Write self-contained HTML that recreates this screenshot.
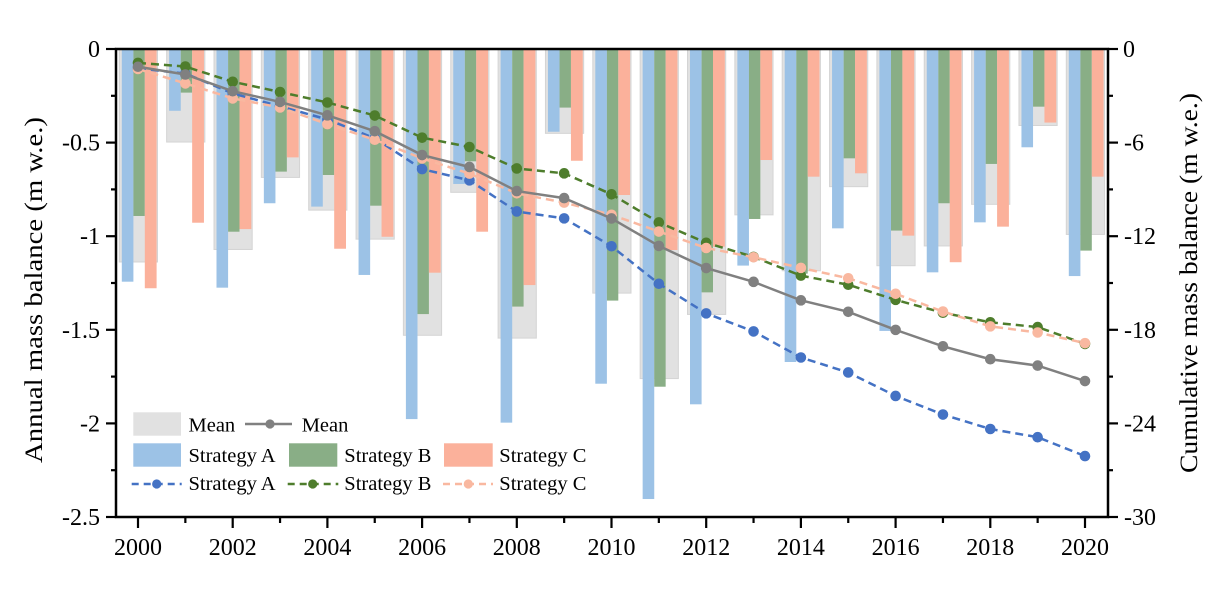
<!DOCTYPE html>
<html>
<head>
<meta charset="utf-8">
<style>
html,body{margin:0;padding:0;background:#fff;}
svg{display:block;}
text{font-family:"Liberation Serif","Times New Roman",serif;fill:#000;}
rect.m{fill:#e1e1e1;stroke:#d4d4d4;stroke-width:1;}
rect.a{fill:#9cc2e6;}
rect.b{fill:#89ae86;}
rect.c{fill:#fbb19b;}
.tk{font-size:24px;}
.lg{font-size:20.5px;}
</style>
</head>
<body>
<svg width="1213" height="606" viewBox="0 0 1213 606" xmlns="http://www.w3.org/2000/svg">
<defs>
<marker id="mA" markerUnits="userSpaceOnUse" markerWidth="14" markerHeight="14" refX="7" refY="7"><circle cx="7" cy="7" r="5.3" fill="#4472c4"/></marker>
<marker id="mB" markerUnits="userSpaceOnUse" markerWidth="14" markerHeight="14" refX="7" refY="7"><circle cx="7" cy="7" r="5.3" fill="#4e7d2c"/></marker>
<marker id="mC" markerUnits="userSpaceOnUse" markerWidth="14" markerHeight="14" refX="7" refY="7"><circle cx="7" cy="7" r="5.3" fill="#f9b8a0"/></marker>
<marker id="mM" markerUnits="userSpaceOnUse" markerWidth="14" markerHeight="14" refX="7" refY="7"><circle cx="7" cy="7" r="5.3" fill="#808080"/></marker>
</defs>
<rect width="1213" height="606" fill="#fff"/>

<!-- bars -->
<g transform="translate(138,49)"><rect class="m" x="-18.7" width="38.2" height="212.97"/><rect class="a" x="-16.2" width="11.6" height="232.69"/><rect class="b" x="-4.6" width="11.4" height="166.98"/><rect class="c" x="6.8" width="11.8" height="239.24"/></g>
<g transform="translate(185.35,49)"><rect class="m" x="-18.7" width="38.2" height="93.04"/><rect class="a" x="-16.2" width="11.6" height="61.78"/><rect class="b" x="-4.6" width="11.4" height="43.62"/><rect class="c" x="6.8" width="11.8" height="173.72"/></g>
<g transform="translate(232.7,49)"><rect class="m" x="-18.7" width="38.2" height="200.49"/><rect class="a" x="-16.2" width="11.6" height="238.68"/><rect class="b" x="-4.6" width="11.4" height="182.71"/><rect class="c" x="6.8" width="11.8" height="180.09"/></g>
<g transform="translate(280.05,49)"><rect class="m" x="-18.7" width="38.2" height="128.42"/><rect class="a" x="-16.2" width="11.6" height="154.25"/><rect class="b" x="-4.6" width="11.4" height="122.62"/><rect class="c" x="6.8" width="11.8" height="108.39"/></g>
<g transform="translate(327.4,49)"><rect class="m" x="-18.7" width="38.2" height="161.12"/><rect class="a" x="-16.2" width="11.6" height="157.62"/><rect class="b" x="-4.6" width="11.4" height="125.99"/><rect class="c" x="6.8" width="11.8" height="199.74"/></g>
<g transform="translate(374.75,49)"><rect class="m" x="-18.7" width="38.2" height="190.14"/><rect class="a" x="-16.2" width="11.6" height="225.95"/><rect class="b" x="-4.6" width="11.4" height="156.69"/><rect class="c" x="6.8" width="11.8" height="187.76"/></g>
<g transform="translate(422.1,49)"><rect class="m" x="-18.7" width="38.2" height="286.29"/><rect class="a" x="-16.2" width="11.6" height="370.09"/><rect class="b" x="-4.6" width="11.4" height="265.08"/><rect class="c" x="6.8" width="11.8" height="223.7"/></g>
<g transform="translate(469.45,49)"><rect class="m" x="-18.7" width="38.2" height="143.33"/><rect class="a" x="-16.2" width="11.6" height="134.97"/><rect class="b" x="-4.6" width="11.4" height="112.32"/><rect class="c" x="6.8" width="11.8" height="182.71"/></g>
<g transform="translate(516.8,49)"><rect class="m" x="-18.7" width="38.2" height="289.1"/><rect class="a" x="-16.2" width="11.6" height="373.65"/><rect class="b" x="-4.6" width="11.4" height="257.59"/><rect class="c" x="6.8" width="11.8" height="236.06"/></g>
<g transform="translate(564.15,49)"><rect class="m" x="-18.7" width="38.2" height="84.37"/><rect class="a" x="-16.2" width="11.6" height="82.74"/><rect class="b" x="-4.6" width="11.4" height="58.59"/><rect class="c" x="6.8" width="11.8" height="111.76"/></g>
<g transform="translate(611.5,49)"><rect class="m" x="-18.7" width="38.2" height="244.11"/><rect class="a" x="-16.2" width="11.6" height="334.71"/><rect class="b" x="-4.6" width="11.4" height="251.6"/><rect class="c" x="6.8" width="11.8" height="146.02"/></g>
<g transform="translate(658.85,49)"><rect class="m" x="-18.7" width="38.2" height="329.6"/><rect class="a" x="-16.2" width="11.6" height="450.03"/><rect class="b" x="-4.6" width="11.4" height="337.71"/><rect class="c" x="6.8" width="11.8" height="201.05"/></g>
<g transform="translate(706.2,49)"><rect class="m" x="-18.7" width="38.2" height="265.45"/><rect class="a" x="-16.2" width="11.6" height="355.31"/><rect class="b" x="-4.6" width="11.4" height="243.36"/><rect class="c" x="6.8" width="11.8" height="197.68"/></g>
<g transform="translate(753.55,49)"><rect class="m" x="-18.7" width="38.2" height="165.86"/><rect class="a" x="-16.2" width="11.6" height="216.59"/><rect class="b" x="-4.6" width="11.4" height="169.98"/><rect class="c" x="6.8" width="11.8" height="111.01"/></g>
<g transform="translate(800.9,49)"><rect class="m" x="-18.7" width="38.2" height="221.77"/><rect class="a" x="-16.2" width="11.6" height="313"/><rect class="b" x="-4.6" width="11.4" height="224.64"/><rect class="c" x="6.8" width="11.8" height="127.67"/></g>
<g transform="translate(848.25,49)"><rect class="m" x="-18.7" width="38.2" height="137.65"/><rect class="a" x="-16.2" width="11.6" height="179.34"/><rect class="b" x="-4.6" width="11.4" height="109.32"/><rect class="c" x="6.8" width="11.8" height="124.3"/></g>
<g transform="translate(895.6,49)"><rect class="m" x="-18.7" width="38.2" height="216.72"/><rect class="a" x="-16.2" width="11.6" height="281.92"/><rect class="b" x="-4.6" width="11.4" height="181.58"/><rect class="c" x="6.8" width="11.8" height="186.64"/></g>
<g transform="translate(942.95,49)"><rect class="m" x="-18.7" width="38.2" height="196.93"/><rect class="a" x="-16.2" width="11.6" height="223.33"/><rect class="b" x="-4.6" width="11.4" height="154.25"/><rect class="c" x="6.8" width="11.8" height="213.22"/></g>
<g transform="translate(990.3,49)"><rect class="m" x="-18.7" width="38.2" height="155.32"/><rect class="a" x="-16.2" width="11.6" height="173.35"/><rect class="b" x="-4.6" width="11.4" height="114.94"/><rect class="c" x="6.8" width="11.8" height="177.65"/></g>
<g transform="translate(1037.65,49)"><rect class="m" x="-18.7" width="38.2" height="76.5"/><rect class="a" x="-16.2" width="11.6" height="98.28"/><rect class="b" x="-4.6" width="11.4" height="57.66"/><rect class="c" x="6.8" width="11.8" height="73.57"/></g>
<g transform="translate(1085,49)"><rect class="m" x="-18.7" width="38.2" height="185.46"/><rect class="a" x="-16.2" width="11.6" height="227.07"/><rect class="b" x="-4.6" width="11.4" height="201.61"/><rect class="c" x="6.8" width="11.8" height="127.67"/></g>

<!-- cumulative lines -->
<polyline fill="none" stroke="#4472c4" stroke-width="2.5" stroke-dasharray="8 5" marker-start="url(#mA)" marker-mid="url(#mA)" marker-end="url(#mA)" points="138,68.39 185.35,73.54 232.7,93.43 280.05,106.28 327.4,119.42 374.75,138.25 422.1,169.09 469.45,180.34 516.8,211.47 564.15,218.37 611.5,246.26 658.85,283.76 706.2,313.37 753.55,331.42 800.9,357.51 848.25,372.45 895.6,395.94 942.95,414.55 990.3,429 1037.65,437.19 1085,456.11"/>
<polyline fill="none" stroke="#4e7d2c" stroke-width="2.5" stroke-dasharray="8 5" marker-start="url(#mB)" marker-mid="url(#mB)" marker-end="url(#mB)" points="138,62.92 185.35,66.55 232.7,81.78 280.05,91.99 327.4,102.49 374.75,115.55 422.1,137.64 469.45,147 516.8,168.46 564.15,173.35 611.5,194.31 658.85,222.46 706.2,242.74 753.55,256.9 800.9,275.62 848.25,284.73 895.6,299.86 942.95,312.72 990.3,322.3 1037.65,327.1 1085,343.9"/>
<polyline fill="none" stroke="#f9b8a0" stroke-width="2.5" stroke-dasharray="8 5" marker-start="url(#mC)" marker-mid="url(#mC)" marker-end="url(#mC)" points="138,68.94 185.35,83.41 232.7,98.42 280.05,107.45 327.4,124.1 374.75,139.75 422.1,158.39 469.45,173.61 516.8,193.28 564.15,202.6 611.5,214.77 658.85,231.52 706.2,247.99 753.55,257.24 800.9,267.88 848.25,278.24 895.6,293.8 942.95,311.56 990.3,326.37 1037.65,332.5 1085,343.14"/>
<polyline fill="none" stroke="#808080" stroke-width="2.5" marker-start="url(#mM)" marker-mid="url(#mM)" marker-end="url(#mM)" points="138,66.75 185.35,74.5 232.7,91.21 280.05,101.91 327.4,115.34 374.75,131.18 422.1,155.04 469.45,166.98 516.8,191.07 564.15,198.1 611.5,218.45 658.85,245.91 706.2,268.03 753.55,281.86 800.9,300.34 848.25,311.81 895.6,329.87 942.95,346.28 990.3,359.22 1037.65,365.6 1085,381.05"/>

<!-- frame -->
<rect x="116" y="49" width="992" height="468" fill="none" stroke="#000" stroke-width="2.5"/>

<!-- left ticks -->
<g stroke="#000" stroke-width="2.2">
<line x1="106" y1="49" x2="116" y2="49"/>
<line x1="106" y1="142.6" x2="116" y2="142.6"/>
<line x1="106" y1="236.2" x2="116" y2="236.2"/>
<line x1="106" y1="329.8" x2="116" y2="329.8"/>
<line x1="106" y1="423.4" x2="116" y2="423.4"/>
<line x1="106" y1="517" x2="116" y2="517"/>
<line x1="111" y1="95.8" x2="116" y2="95.8"/>
<line x1="111" y1="189.4" x2="116" y2="189.4"/>
<line x1="111" y1="283" x2="116" y2="283"/>
<line x1="111" y1="376.6" x2="116" y2="376.6"/>
<line x1="111" y1="470.2" x2="116" y2="470.2"/>
<!-- right ticks -->
<line x1="1108" y1="49" x2="1118" y2="49"/>
<line x1="1108" y1="142.6" x2="1118" y2="142.6"/>
<line x1="1108" y1="236.2" x2="1118" y2="236.2"/>
<line x1="1108" y1="329.8" x2="1118" y2="329.8"/>
<line x1="1108" y1="423.4" x2="1118" y2="423.4"/>
<line x1="1108" y1="517" x2="1118" y2="517"/>
<line x1="1108" y1="95.8" x2="1113" y2="95.8"/>
<line x1="1108" y1="189.4" x2="1113" y2="189.4"/>
<line x1="1108" y1="283" x2="1113" y2="283"/>
<line x1="1108" y1="376.6" x2="1113" y2="376.6"/>
<line x1="1108" y1="470.2" x2="1113" y2="470.2"/>
<!-- bottom ticks -->
<line x1="138" y1="517" x2="138" y2="528"/>
<line x1="185.35" y1="517" x2="185.35" y2="523"/>
<line x1="232.7" y1="517" x2="232.7" y2="528"/>
<line x1="280.05" y1="517" x2="280.05" y2="523"/>
<line x1="327.4" y1="517" x2="327.4" y2="528"/>
<line x1="374.75" y1="517" x2="374.75" y2="523"/>
<line x1="422.1" y1="517" x2="422.1" y2="528"/>
<line x1="469.45" y1="517" x2="469.45" y2="523"/>
<line x1="516.8" y1="517" x2="516.8" y2="528"/>
<line x1="564.15" y1="517" x2="564.15" y2="523"/>
<line x1="611.5" y1="517" x2="611.5" y2="528"/>
<line x1="658.85" y1="517" x2="658.85" y2="523"/>
<line x1="706.2" y1="517" x2="706.2" y2="528"/>
<line x1="753.55" y1="517" x2="753.55" y2="523"/>
<line x1="800.9" y1="517" x2="800.9" y2="528"/>
<line x1="848.25" y1="517" x2="848.25" y2="523"/>
<line x1="895.6" y1="517" x2="895.6" y2="528"/>
<line x1="942.95" y1="517" x2="942.95" y2="523"/>
<line x1="990.3" y1="517" x2="990.3" y2="528"/>
<line x1="1037.65" y1="517" x2="1037.65" y2="523"/>
<line x1="1085" y1="517" x2="1085" y2="528"/>
</g>

<!-- left tick labels -->
<g class="tk" text-anchor="end">
<text x="100" y="57">0</text>
<text x="100" y="150.6">-0.5</text>
<text x="100" y="244.2">-1</text>
<text x="100" y="337.8">-1.5</text>
<text x="100" y="431.4">-2</text>
<text x="100" y="525">-2.5</text>
</g>
<!-- right tick labels -->
<g class="tk" text-anchor="start">
<text x="1123" y="57">0</text>
<text x="1124" y="150.6">-6</text>
<text x="1124" y="244.2">-12</text>
<text x="1124" y="337.8">-18</text>
<text x="1124" y="431.4">-24</text>
<text x="1124" y="525">-30</text>
</g>
<!-- x tick labels -->
<g class="tk" text-anchor="middle">
<text x="138" y="555">2000</text>
<text x="232.7" y="555">2002</text>
<text x="327.4" y="555">2004</text>
<text x="422.1" y="555">2006</text>
<text x="516.8" y="555">2008</text>
<text x="611.5" y="555">2010</text>
<text x="706.2" y="555">2012</text>
<text x="800.9" y="555">2014</text>
<text x="895.6" y="555">2016</text>
<text x="990.3" y="555">2018</text>
<text x="1085" y="555">2020</text>
</g>

<!-- axis titles -->
<text transform="translate(42,290) rotate(-90)" text-anchor="middle" font-size="25" textLength="346" lengthAdjust="spacingAndGlyphs">Annual mass balance (m w.e.)</text>
<text transform="translate(1197,283) rotate(-90)" text-anchor="middle" font-size="25" textLength="380" lengthAdjust="spacingAndGlyphs">Cumulative mass balance (m w.e.)</text>

<!-- legend -->
<g class="lg">
<rect x="133.3" y="412.3" width="47.7" height="23.4" fill="#e1e1e1"/>
<text x="188.5" y="431.5">Mean</text>
<line x1="245" y1="424" x2="292" y2="424" stroke="#808080" stroke-width="2.5"/>
<circle cx="270" cy="424" r="4.6" fill="#808080"/>
<text x="301.7" y="431.5">Mean</text>

<rect x="133.3" y="443.3" width="47.7" height="23.4" fill="#9cc2e6"/>
<text x="188.5" y="462">Strategy A</text>
<rect x="289" y="443.3" width="48.3" height="23.4" fill="#89ae86"/>
<text x="344.3" y="462">Strategy B</text>
<rect x="444" y="443.3" width="48.7" height="23.4" fill="#fbb19b"/>
<text x="499.3" y="462">Strategy C</text>

<line x1="131.7" y1="484" x2="181.7" y2="484" stroke="#4472c4" stroke-width="2.5" stroke-dasharray="7 5"/>
<circle cx="156.7" cy="484" r="4.6" fill="#4472c4"/>
<text x="188.5" y="490">Strategy A</text>
<line x1="287.7" y1="484" x2="338.3" y2="484" stroke="#4e7d2c" stroke-width="2.5" stroke-dasharray="7 5"/>
<circle cx="312.7" cy="484" r="4.6" fill="#4e7d2c"/>
<text x="344.3" y="490">Strategy B</text>
<line x1="443" y1="484" x2="493" y2="484" stroke="#f9b8a0" stroke-width="2.5" stroke-dasharray="7 5"/>
<circle cx="468.3" cy="484" r="4.6" fill="#f9b8a0"/>
<text x="499.3" y="490">Strategy C</text>
</g>
</svg>
</body>
</html>
